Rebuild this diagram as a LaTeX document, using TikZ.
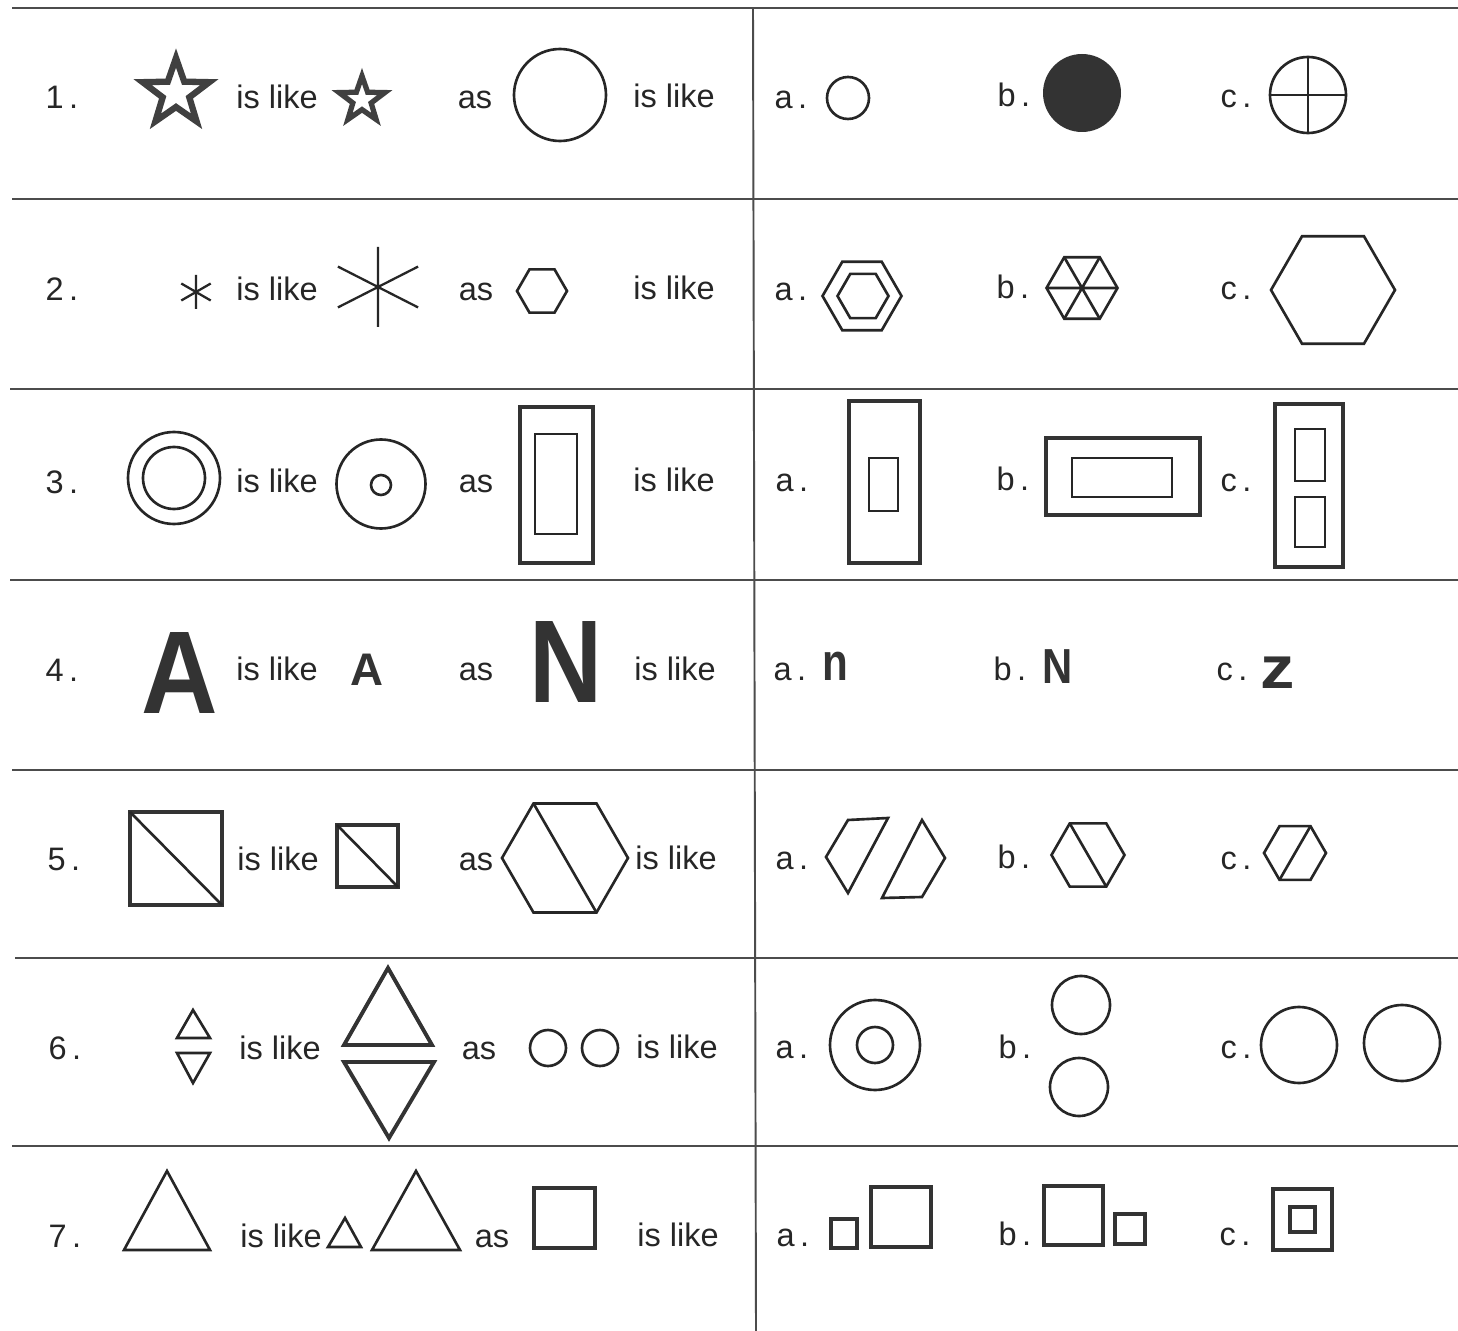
\documentclass[tikz,border=0pt]{standalone}
\usepackage{fontspec}
\setmainfont{Liberation Sans}
\usetikzlibrary{shapes.geometric}

\begin{document}
\begin{tikzpicture}[x=0.02cm, y=-0.02cm,
  lbl/.style={anchor=base, inner sep=0pt, text=black!85, font=\fontsize{18.5}{22}\selectfont},
  letter/.style={anchor=base, inner sep=0pt, text=black!80},
  rule/.style={draw=black!70, line width=1.1pt},
  shp/.style={draw=black!85, line width=1.5pt},
  heavy/.style={draw=black!80, line width=2.2pt},
  hexa/.style={shp, regular polygon, regular polygon sides=6, inner sep=0pt, outer sep=0pt},
  starx/.style={star, star points=5, star point ratio=2.5, draw=black!75, inner sep=0pt, outer sep=0pt}
]
\useasboundingbox (0,0) rectangle (1458,1331);
\fill[white] (0,0) rectangle (1458,1331);

% table rules
\draw[rule] (12,8) -- (1458,8);
\draw[rule] (12,199) -- (1458,199);
\draw[rule] (10,389) -- (1458,389);
\draw[rule] (10,580) -- (1458,580);
\draw[rule] (12,770) -- (1458,770);
\draw[rule] (15,958) -- (1458,958);
\draw[rule] (12,1146) -- (1458,1146);
\draw[rule] (753,8) -- (756,1331);

% row 1
\node[lbl] (n1) at (62,109) {1\,.};
\node[starx, line width=3.6pt, minimum size=1.40cm] (bigstar) at (176,93) {};
\node[lbl] (like1a) at (277,109) {is like};
\node[starx, line width=3pt, minimum size=0.96cm] (smallstar) at (362,100) {};
\node[lbl] (as1) at (475,109) {as};
\draw[shp] (560,95) circle[radius=46];
\node[lbl] (like1b) at (674,108) {is like};
\node[lbl] (a1) at (791,109) {a\,.};
\draw[shp] (848,98) circle[radius=21];
\node[lbl] (b1) at (1014,107) {b\,.};
\fill[black!80] (1082,93) circle[radius=39];
\node[lbl] (c1) at (1236,108) {c\,.};
\coordinate (cross) at (1308,95);
\draw[shp] (cross) circle[radius=38];
\draw[shp] (1270,95) -- (1346,95) (1308,57) -- (1308,133);

% row 2
\node[lbl] (n2) at (62,301) {2\,.};
\coordinate (ast) at (196,292);
\draw[shp, line width=1.3pt] (ast) ++(90:17) -- ++(270:34)
  (ast) ++(30:17) -- ++(210:34) (ast) ++(150:17) -- ++(330:34);
\node[lbl] (like2a) at (277,301) {is like};
\coordinate (bigast) at (378,287);
\draw[shp, line width=1.3pt] (bigast) ++(90:40) -- ++(270:80)
  (bigast) ++(27:45) -- ++(207:90) (bigast) ++(153:45) -- ++(333:90);
\node[lbl] (as2) at (476,301) {as};
\node[hexa, minimum size=1.0cm] (hex2) at (542,291) {};
\node[lbl] (like2b) at (674,300) {is like};
\node[lbl] (a2) at (791,301) {a\,.};
\node[hexa, minimum size=1.58cm] (hex2ao) at (862,296) {};
\node[hexa, minimum size=1.02cm] (hex2ai) at (863,296) {};
\node[lbl] (b2) at (1013,299) {b\,.};
\node[hexa, minimum size=1.42cm] (hex2b) at (1082,288) {};
\draw[shp] (hex2b.0) -- (hex2b.180) (hex2b.60) -- (hex2b.240) (hex2b.120) -- (hex2b.300);
\node[lbl] (c2) at (1236,300) {c\,.};
\node[hexa, minimum size=2.48cm] (hex2c) at (1333,290) {};

% row 3
\node[lbl] (n3) at (62,493) {3\,.};
\draw[shp] (174,478) circle[radius=46] (174,478) circle[radius=31];
\node[lbl] (like3a) at (277,492) {is like};
\draw[shp] (381,484) circle[radius=44.5] (381,485) circle[radius=10];
\node[lbl] (as3) at (476,492) {as};
\draw[heavy] (520,407) rectangle (593,563);
\draw[shp] (535,434) rectangle (577,534);
\node[lbl] (like3b) at (674,491) {is like};
\node[lbl] (a3) at (792,491) {a\,.};
\draw[heavy] (849,401) rectangle (920,563);
\draw[shp] (869,458) rectangle (898,511);
\node[lbl] (b3) at (1013,490) {b\,.};
\draw[heavy] (1046,438) rectangle (1200,515);
\draw[shp] (1072,458) rectangle (1172,497);
\node[lbl] (c3) at (1236,491) {c\,.};
\draw[heavy] (1275,404) rectangle (1343,567);
\draw[shp] (1295,429) rectangle (1325,481) (1295,497) rectangle (1325,547);

% row 4
\node[lbl] (n4) at (62,681) {4\,.};
\node[letter, font=\fontsize{67}{67}\selectfont\bfseries] (bigA) at (180,713) {\scalebox{0.9}[1]{A}};
\node[lbl] (like4a) at (277,680) {is like};
\node[letter, font=\fontsize{26}{26}\selectfont\bfseries] (smallA) at (367,685) {A};
\node[lbl] (as4) at (476,680) {as};
\node[letter, font=\fontsize{67}{67}\selectfont\bfseries] (bigN) at (566,702) {\scalebox{0.86}[1]{N}};
\node[lbl] (like4b) at (675,680) {is like};
\node[lbl] (a4) at (790,680) {a\,.};
\node[letter, font=\fontsize{30}{30}\selectfont\bfseries] (optn) at (835,680) {\scalebox{0.8}[1]{n}};
\node[lbl] (b4) at (1010,680) {b\,.};
\node[letter, font=\fontsize{28}{28}\selectfont\bfseries] (optN) at (1058,683) {\scalebox{0.85}[1]{N}};
\node[lbl] (c4) at (1232,680) {c\,.};
\node[letter, font=\fontsize{34}{34}\selectfont\bfseries] (optz) at (1278,688) {\scalebox{1.15}[1]{z}};

% row 5
\node[lbl] (n5) at (64,870) {5\,.};
\draw[heavy] (130,812) rectangle (222,905);
\draw[shp] (130,812) -- (222,905);
\node[lbl] (like5a) at (278,870) {is like};
\draw[heavy] (337,825) rectangle (398,887);
\draw[shp] (337,825) -- (398,887);
\node[lbl] (as5) at (476,870) {as};
\node[hexa, minimum size=2.52cm] (hex5) at (565,858) {};
\draw[shp] (hex5.120) -- (hex5.300);
\node[lbl] (like5b) at (676,869) {is like};
\node[lbl] (a5) at (792,869) {a\,.};
\draw[shp] (826,857) -- (848,820) -- (888,818) -- (848,893) -- cycle;
\draw[shp] (922,820) -- (945,858) -- (922,897) -- (882,898) -- cycle;
\node[lbl] (b5) at (1014,868) {b\,.};
\node[hexa, minimum size=1.46cm] (hex5b) at (1088,855) {};
\draw[shp] (hex5b.120) -- (hex5b.300);
\node[lbl] (c5) at (1236,869) {c\,.};
\node[hexa, minimum size=1.24cm] (hex5c) at (1295,853) {};
\draw[shp] (hex5c.60) -- (hex5c.240);

% row 6
\node[lbl] (n6) at (65,1059) {6\,.};
\draw[shp] (193,1010) -- (210,1038) -- (177,1038) -- cycle;
\draw[shp] (177,1053) -- (210,1053) -- (193,1083) -- cycle;
\node[lbl] (like6a) at (280,1059) {is like};
\draw[heavy] (388,968) -- (432,1045) -- (344,1045) -- cycle;
\draw[heavy] (344,1062) -- (434,1062) -- (389,1138) -- cycle;
\node[lbl] (as6) at (479,1059) {as};
\draw[shp] (548,1048) circle[radius=18] (600,1048) circle[radius=18];
\node[lbl] (like6b) at (677,1058) {is like};
\node[lbl] (a6) at (792,1058) {a\,.};
\draw[shp] (875,1045) circle[radius=45] (875,1045) circle[radius=18];
\node[lbl] (b6) at (1015,1058) {b\,.};
\draw[shp] (1081,1005) circle[radius=29] (1079,1087) circle[radius=29];
\node[lbl] (c6) at (1236,1058) {c\,.};
\draw[shp] (1299,1045) circle[radius=38] (1402,1043) circle[radius=38];

% row 7
\node[lbl] (n7) at (65,1247) {7\,.};
\draw[shp] (167,1171) -- (210,1250) -- (124,1250) -- cycle;
\node[lbl] (like7a) at (281,1247) {is like};
\draw[shp] (345,1218) -- (361,1247) -- (328,1247) -- cycle;
\draw[shp] (416,1171) -- (460,1250) -- (372,1250) -- cycle;
\node[lbl] (as7) at (492,1247) {as};
\draw[heavy] (534,1188) rectangle (595,1248);
\node[lbl] (like7b) at (678,1246) {is like};
\node[lbl] (a7) at (793,1246) {a\,.};
\draw[heavy] (831,1219) rectangle (857,1248);
\draw[heavy] (871,1187) rectangle (931,1247);
\node[lbl] (b7) at (1015,1245) {b\,.};
\draw[heavy] (1044,1186) rectangle (1103,1245);
\draw[heavy] (1115,1214) rectangle (1145,1244);
\node[lbl] (c7) at (1235,1245) {c\,.};
\draw[heavy] (1273,1189) rectangle (1332,1250);
\draw[heavy] (1290,1207) rectangle (1315,1232);
\end{tikzpicture}
\end{document}
